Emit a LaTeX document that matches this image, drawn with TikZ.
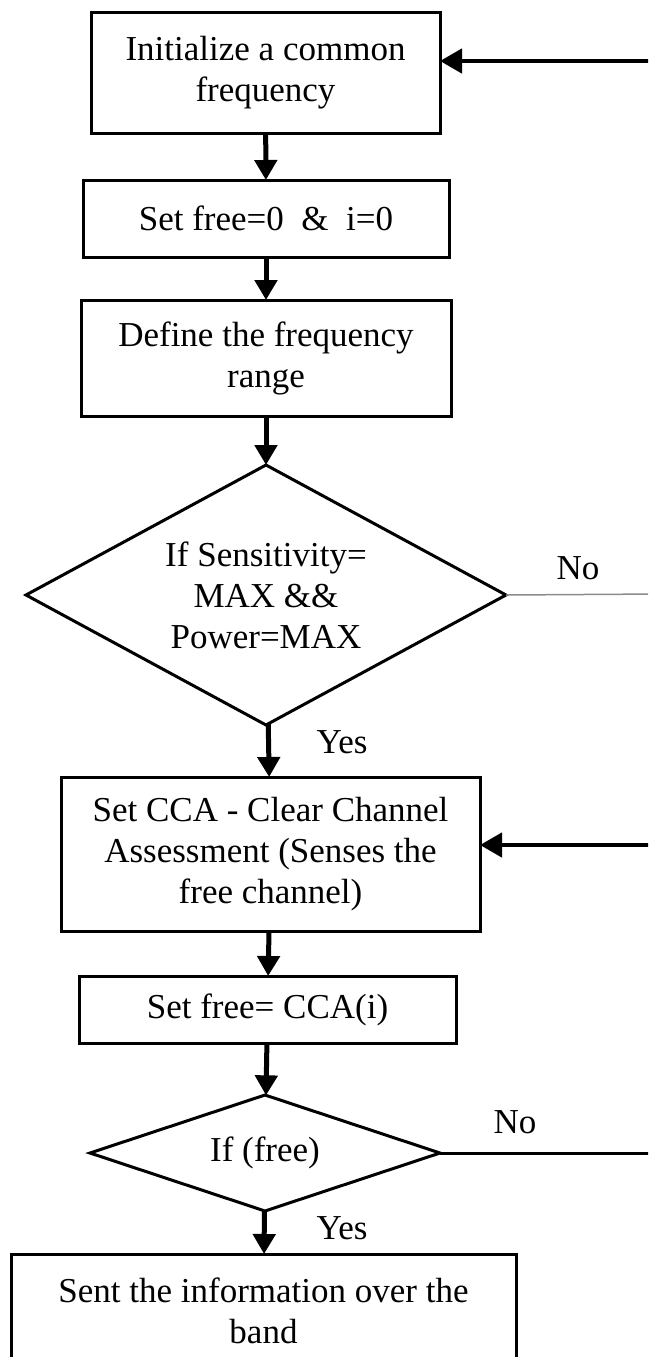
\documentclass[tikz,border=0pt]{standalone}
\usepackage{fontspec}
\setmainfont{Liberation Serif}
\usetikzlibrary{shapes.geometric,arrows.meta}
\begin{document}
\begin{tikzpicture}[x=1pt,y=-1pt,
  txt/.style={font=\fontsize{35}{41}\selectfont},
  box/.style={txt,draw,rectangle,line width=3pt,inner sep=0pt,outer sep=0pt,align=center},
  decision/.style={txt,draw,diamond,line width=3pt,inner sep=0pt,outer sep=0pt,align=center},
  flow/.style={line width=5pt,-{Triangle[width=22pt,length=20pt]}},
  loopback/.style={line width=4.5pt,-{Triangle[width=24pt,length=22pt]}},
  branch/.style={line width=3pt},
  faint/.style={line width=1.5pt,draw=black!45},
  lbl/.style={txt,inner sep=0pt}]
\useasboundingbox (0,0) rectangle (648,1357);
\clip (0,0) rectangle (648,1357);

% process steps and decisions
\node[box,minimum width=349pt,minimum height=121pt] (init) at (265.5,72.5)
  {Initialize a common\\frequency};
\node[box,minimum width=366pt,minimum height=77pt] (reset) at (266,218.5)
  {Set free=0 \ \& \ i=0};
\node[box,minimum width=370pt,minimum height=116pt] (range) at (266,358)
  {Define the frequency\\range};
\node[decision,aspect=1.85,minimum width=480pt,minimum height=260pt] (maxchk) at (266,595)
  {If Sensitivity=\\MAX \&\&\\Power=MAX};
\node[box,minimum width=419pt,minimum height=154pt] (cca) at (270.5,854)
  {Set CCA - Clear Channel\\Assessment (Senses the\\free channel)};
\node[box,minimum width=377pt,minimum height=67pt] (setfree) at (267.5,1009.5)
  {Set free= CCA(i)};
\node[decision,aspect=3,minimum width=350pt,minimum height=116pt] (freechk) at (265,1153)
  {If (free)};
\node[box,minimum width=505pt,minimum height=114pt] (send) at (263.5,1311)
  {Sent the information over the\\band};

% branch labels
\node[lbl] (no1) at (578,568) {No};
\node[lbl] (yes1) at (342,742) {Yes};
\node[lbl] (no2) at (515,1122) {No};
\node[lbl] (yes2) at (342,1228) {Yes};

% loose ends running off to the right
\coordinate (back1) at (660,61);
\coordinate (back2) at (660,845);
\coordinate (out1) at (660,594);
\coordinate (out2) at (660,1153);

% main flow
\draw[flow] (init) -- (reset);
\draw[flow] (reset) -- (range);
\draw[flow] (range) -- (maxchk);
\draw[flow] (maxchk) -- (cca);
\draw[flow] (cca) -- (setfree);
\draw[flow] (setfree) -- (freechk);
\draw[flow] (freechk) -- (send);

% "No" branches and returns
\draw[faint] (maxchk.east) -- (out1);
\draw[branch] (freechk.east) -- (out2);
\draw[loopback] (back1) -- (back1 -| init.east);
\draw[loopback] (back2) -- (back2 -| cca.east);
\end{tikzpicture}
\end{document}
